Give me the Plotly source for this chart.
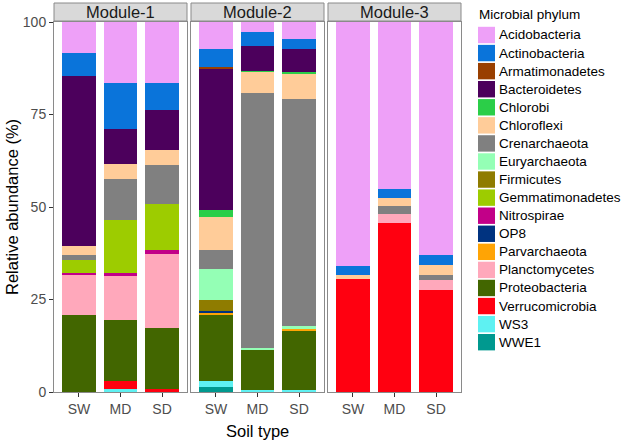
import plotly.graph_objects as go
from plotly.subplots import make_subplots

# Stacked relative abundance per module and soil type.
modules = ["Module-1", "Module-2", "Module-3"]
soil_types = ["SW", "MD", "SD"]

# values per phylum, ordered M1(SW,MD,SD), M2(SW,MD,SD), M3(SW,MD,SD)
acidobacteria = [8.3, 16.4, 16.5, 7.2, 2.7, 4.5, 66.0, 45.0, 63.1]
actinobacteria = [6.4, 12.4, 7.2, 5.0, 3.9, 2.7, 2.5, 2.7, 2.5]
armatimonadetes = [0, 0, 0, 0.5, 0, 0, 0, 0, 0]
bacteroidetes = [45.8, 9.7, 11.0, 38.0, 6.6, 6.3, 0, 0, 0]
chlorobi = [0, 0, 0, 2.0, 0.3, 0.45, 0, 0, 0]
chloroflexi = [2.4, 3.8, 3.9, 8.8, 5.7, 6.8, 0.9, 2.1, 2.7]
crenarchaeota = [1.5, 11.1, 10.7, 5.3, 68.8, 61.3, 0, 2.0, 1.5]
euryarchaeota = [0, 0, 0, 8.4, 0.7, 0.9, 0, 0, 0]
firmicutes = [0, 0, 0, 3.0, 0, 0, 0, 0, 0]
gemmatimonadetes = [3.4, 14.4, 12.4, 0, 0, 0, 0, 0, 0]
nitrospirae = [0.4, 0.9, 1.1, 0, 0, 0, 0, 0, 0]
op8 = [0, 0, 0, 0.3, 0, 0, 0, 0, 0]
parvarchaeota = [0, 0, 0, 0.8, 0, 0.4, 0, 0, 0]
planctomycetes = [10.9, 11.8, 19.9, 0, 0, 0, 0, 2.5, 2.7]
proteobacteria = [20.9, 16.4, 16.4, 17.7, 10.8, 16.2, 0, 0, 0]
verrucomicrobia = [0, 2.3, 0.9, 0, 0, 0, 30.6, 45.7, 27.5]
ws3 = [0, 0.8, 0, 1.65, 0.5, 0.45, 0, 0, 0]
wwe1 = [0, 0, 0, 1.35, 0, 0, 0, 0, 0]

phyla = [
    ("Acidobacteria", acidobacteria, "#EEA0F8"),
    ("Actinobacteria", actinobacteria, "#0A74DA"),
    ("Armatimonadetes", armatimonadetes, "#993F00"),
    ("Bacteroidetes", bacteroidetes, "#4C005C"),
    ("Chlorobi", chlorobi, "#2BCE48"),
    ("Chloroflexi", chloroflexi, "#FFCC99"),
    ("Crenarchaeota", crenarchaeota, "#808080"),
    ("Euryarchaeota", euryarchaeota, "#94FFB5"),
    ("Firmicutes", firmicutes, "#8F7C00"),
    ("Gemmatimonadetes", gemmatimonadetes, "#9DCC00"),
    ("Nitrospirae", nitrospirae, "#C20088"),
    ("OP8", op8, "#003380"),
    ("Parvarchaeota", parvarchaeota, "#FFA405"),
    ("Planctomycetes", planctomycetes, "#FFA8BB"),
    ("Proteobacteria", proteobacteria, "#426600"),
    ("Verrucomicrobia", verrucomicrobia, "#FF0010"),
    ("WS3", ws3, "#5EF1F2"),
    ("WWE1", wwe1, "#00998F"),
]

FONT = "Liberation Sans, Arial, sans-serif"
BORDER = "#8a8a8a"
W, H = 625, 446
ML, MR, MT, MB = 54, 164, 22, 54
PW, PH = W - ML - MR, H - MT - MB


def px_x(px):
    # page pixel -> paper fraction
    return (px - ML) / PW


def px_y(py):
    return (H - MB - py) / PH


fig = make_subplots(rows=1, cols=3, shared_yaxes=True, horizontal_spacing=0.0098)

# ggplot stacks the first factor level on top, so add bottom-up
for name, vals, color in reversed(phyla):
    for m in range(3):
        fig.add_trace(
            go.Bar(
                x=soil_types, y=vals[m * 3:(m + 1) * 3], name=name,
                marker=dict(color=color, line_width=0), width=0.8,
                showlegend=False,
                hovertemplate=name + " %{x}: %{y}%<extra></extra>",
            ),
            row=1, col=m + 1,
        )

# facet strips
for m, title in enumerate(modules):
    ax = "" if m == 0 else str(m + 1)
    fig.add_shape(type="rect", xref=f"x{ax} domain", yref="paper",
                  x0=0, x1=1, y0=px_y(21), y1=px_y(3),
                  fillcolor="#d9d9d9", line=dict(color=BORDER, width=1))
    fig.add_annotation(text=title, xref=f"x{ax} domain", yref="paper",
                       x=0.5, y=px_y(12), xanchor="center", yanchor="middle",
                       showarrow=False,
                       font=dict(family=FONT, size=16.5, color="#1a1a1a"))

# legend drawn ggplot-style: tall square keys packed tightly
fig.add_annotation(text="Microbial phylum", xref="paper", yref="paper",
                   x=px_x(477), y=px_y(15), xanchor="left", yanchor="middle",
                   showarrow=False, font=dict(family=FONT, size=13.5, color="#000000"))
for i, (name, _, color) in enumerate(phyla):
    cy = 35 + i * 18.07
    fig.add_shape(type="rect", xref="paper", yref="paper",
                  x0=px_x(478), x1=px_x(495), y0=px_y(cy + 8.2), y1=px_y(cy - 8.2),
                  fillcolor=color, line_width=0)
    fig.add_annotation(text=name, xref="paper", yref="paper",
                       x=px_x(497), y=px_y(cy), xanchor="left", yanchor="middle",
                       showarrow=False,
                       font=dict(family=FONT, size=13.5, color="#000000"))

fig.update_xaxes(range=[-0.6, 2.6], showline=True, mirror=True, linecolor=BORDER,
                 linewidth=1, ticks="outside", ticklen=4, tickcolor="#333333",
                 tickfont=dict(family=FONT, size=14, color="#4d4d4d"),
                 showgrid=False, fixedrange=True)
fig.update_yaxes(range=[0, 100], tickvals=[0, 25, 50, 75, 100], showline=True,
                 mirror=True, linecolor=BORDER, linewidth=1, ticks="outside",
                 ticklen=4, tickcolor="#333333",
                 tickfont=dict(family=FONT, size=14, color="#4d4d4d"),
                 showgrid=False, zeroline=False)
fig.update_yaxes(ticks="", row=1, col=2)
fig.update_yaxes(ticks="", row=1, col=3)

fig.add_annotation(text="Soil type", xref="paper", yref="paper", x=0.5, y=px_y(431),
                   xanchor="center", yanchor="middle", showarrow=False,
                   font=dict(family=FONT, size=16.5, color="#000000"))
fig.add_annotation(text="Relative abundance (%)", xref="paper", yref="paper",
                   x=px_x(12), y=0.5, xanchor="center", yanchor="middle",
                   textangle=-90, showarrow=False,
                   font=dict(family=FONT, size=16.5, color="#000000"))

fig.update_layout(
    width=W, height=H,
    margin=dict(l=ML, r=MR, t=MT, b=MB, autoexpand=False),
    barmode="stack",
    plot_bgcolor="white", paper_bgcolor="white",
    font=dict(family=FONT, size=12, color="#000000"),
)

# drop the browser's default 8px body margin so the figure sits at the corner
fig.write_html("out.html", config={"displayModeBar": False},
               post_script="document.body.style.margin='0';")
